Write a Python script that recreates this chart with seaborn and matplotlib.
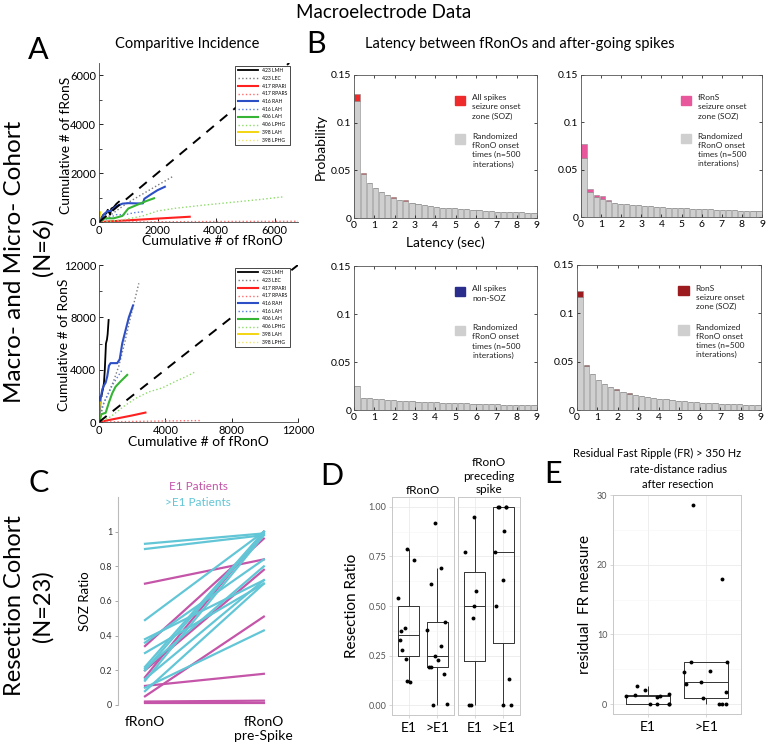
import numpy as np
import pandas as pd
import seaborn as sns
import matplotlib.pyplot as plt
from matplotlib.patches import Rectangle
from matplotlib.ticker import MultipleLocator

# ---------------- data ----------------
# panel A: cumulative counts (x = cumulative fRonO, y = cumulative fRonS / RonS)
a_top = {
    "423 LMH": ([0, 80, 150, 250, 300, 380, 420, 500, 600, 680],
                [0, 150, 300, 350, 500, 300, 550, 600, 750, 830]),
    "423 LEC": ([0, 300, 700, 1000, 1500, 2000, 2550],
                [0, 200, 550, 800, 1150, 1500, 1880]),
    "417 RPARI": ([0, 1000, 2000, 3100], [0, 70, 140, 215]),
    "417 RPARS": ([0, 2000, 4000, 6800], [0, 10, 20, 30]),
    "416 RAH": ([0, 100, 200, 300, 400, 600, 800, 1000, 1300, 1500, 1550, 1800, 2000, 2250],
                [0, 200, 350, 450, 450, 650, 750, 770, 760, 760, 950, 1150, 1300, 1440]),
    "416 LAH": ([0, 300, 600, 900, 1200, 1500], [0, 150, 300, 300, 380, 420]),
    "406 LAH": ([0, 200, 500, 800, 1000, 1300, 1600, 1880],
                [0, 150, 150, 250, 550, 700, 850, 970]),
    "406 LPHG": ([0, 800, 1500, 2000, 2600, 3500, 4500, 5500, 6300],
                 [0, 80, 250, 450, 560, 680, 800, 920, 1030]),
    "398 LAH": ([0, 20, 40], [0, 200, 400]),
    "398 LPHG": ([0, 50], [0, 100]),
}
a_bottom = {
    "423 LMH": ([0, 60, 150, 250, 300, 350, 420, 480, 520, 580],
                [0, 1900, 2000, 2600, 3000, 4000, 6000, 6300, 6700, 7800]),
    "423 LEC": ([0, 300, 600, 900, 1200, 1500, 1900, 2400],
                [0, 1500, 2300, 3200, 4300, 5800, 8000, 10600]),
    "417 RPARI": ([0, 1000, 2000, 2800], [0, 250, 500, 720]),
    "417 RPARS": ([0, 2000, 4000, 6100], [0, 40, 80, 110]),
    "416 RAH": ([0, 100, 200, 300, 400, 500, 600, 700, 1100, 1250, 1400, 1600, 1800, 2050],
                [0, 1800, 2500, 2800, 3000, 3500, 4300, 4500, 4500, 4800, 6000, 7000, 8000, 8900]),
    "416 LAH": ([0, 200, 500, 800, 1100, 1400], [0, 1200, 2000, 2800, 3400, 4000]),
    "406 LAH": ([0, 150, 400, 600, 800, 1000, 1300, 1700],
                [0, 600, 700, 1500, 2200, 2700, 3100, 3600]),
    "406 LPHG": ([0, 700, 1500, 2200, 3000, 3800, 4600, 5300, 5750],
                 [0, 400, 1200, 1800, 2300, 2600, 3100, 3500, 3800]),
    "398 LAH": ([0, 20, 40, 60], [0, 600, 1200, 1500]),
    "398 LPHG": ([0, 40], [0, 200]),
}

# panel B: latency histograms (bin centres in sec, bin width 0.3 s)
latency_bins = np.round(np.arange(0.15, 9.0, 0.3), 2)
soz_all_obs = [0.130, 0.047, 0.037, 0.031, 0.027, 0.024, 0.022, 0.019, 0.019, 0.016,
               0.015, 0.014, 0.013, 0.012, 0.011, 0.011, 0.010, 0.0095, 0.009, 0.0085,
               0.0085, 0.0075, 0.007, 0.0068, 0.0065, 0.0062, 0.006, 0.0062, 0.0055, 0.0053]
soz_all_rand = [0.123, 0.046, 0.037, 0.031, 0.027, 0.024, 0.021, 0.019, 0.018, 0.016,
                0.015, 0.014, 0.013, 0.012, 0.011, 0.0105, 0.010, 0.0095, 0.009, 0.0085,
                0.008, 0.0075, 0.007, 0.0068, 0.0065, 0.0062, 0.006, 0.0058, 0.0055, 0.0053]
frons_obs = [0.077, 0.030, 0.023, 0.022, 0.018, 0.015, 0.014, 0.0135, 0.013, 0.0125,
             0.012, 0.0115, 0.011, 0.0105, 0.010, 0.0098, 0.0095, 0.009, 0.0088, 0.0085,
             0.0082, 0.008, 0.0078, 0.0075, 0.0072, 0.007, 0.0068, 0.0066, 0.0064, 0.006]
frons_rand = [0.062, 0.026, 0.021, 0.019, 0.017, 0.015, 0.014, 0.0135, 0.013, 0.0125,
              0.012, 0.0115, 0.011, 0.0105, 0.010, 0.0098, 0.0095, 0.009, 0.0088, 0.0085,
              0.0082, 0.008, 0.0078, 0.0075, 0.0072, 0.007, 0.0068, 0.0066, 0.0064, 0.006]
nonsoz_obs = [0.024, 0.0125, 0.0115, 0.011, 0.0105, 0.010, 0.0095, 0.0093, 0.009, 0.0086,
              0.0084, 0.0081, 0.0078, 0.0076, 0.0074, 0.0071, 0.0069, 0.0067, 0.0065, 0.0063,
              0.0061, 0.0059, 0.0057, 0.0055, 0.0053, 0.0052, 0.0051, 0.005, 0.0049, 0.0047]
nonsoz_rand = [0.025, 0.013, 0.012, 0.0115, 0.011, 0.0105, 0.010, 0.0098, 0.0095, 0.009,
               0.0088, 0.0085, 0.0082, 0.008, 0.0078, 0.0075, 0.0072, 0.007, 0.0068, 0.0066,
               0.0064, 0.0062, 0.006, 0.0058, 0.0056, 0.0055, 0.0054, 0.0053, 0.0052, 0.005]
rons_obs = [0.123, 0.047, 0.037, 0.031, 0.027, 0.024, 0.022, 0.019, 0.018, 0.016,
            0.0145, 0.013, 0.012, 0.0115, 0.0112, 0.010, 0.0095, 0.009, 0.0085, 0.008,
            0.0075, 0.007, 0.0068, 0.0065, 0.0062, 0.006, 0.0058, 0.0056, 0.0054, 0.0052]
rons_rand = [0.117, 0.046, 0.037, 0.031, 0.027, 0.024, 0.021, 0.019, 0.017, 0.016,
             0.0145, 0.013, 0.012, 0.0115, 0.011, 0.010, 0.0095, 0.009, 0.0085, 0.008,
             0.0075, 0.007, 0.0068, 0.0065, 0.0062, 0.006, 0.0058, 0.0056, 0.0054, 0.0052]

# panel C: SOZ ratio per patient
c_group = ["E1"] * 8 + [">E1"] * 13
c_fronO = [0.70, 0.34, 0.20, 0.16, 0.11, 0.05, 0.02, 0.01,
           0.93, 0.90, 0.49, 0.38, 0.36, 0.30, 0.22, 0.21, 0.20, 0.15, 0.14, 0.10, 0.08]
c_prespike = [0.84, 0.96, 0.78, 1.00, 0.18, 0.51, 0.025, 0.01,
              0.99, 0.98, 1.00, 0.72, 0.84, 0.70, 1.00, 0.80, 0.99, 0.72, 0.98, 0.43, 0.70]

# panel D: resection ratio
d_fronO_e1 = [0.79, 0.73, 0.54, 0.39, 0.375, 0.33, 0.28, 0.235, 0.12, 0.115]
d_fronO_gt = [0.92, 0.69, 0.61, 0.42, 0.38, 0.30, 0.25, 0.23, 0.19, 0.19, 0.155, 0.005, 0.0]
d_pre_e1 = [0.95, 0.77, 0.575, 0.50, 0.44, 0.0, 0.0]
d_pre_gt = [1.0, 1.0, 1.0, 1.0, 0.88, 0.77, 0.63, 0.50, 0.13, 0.0, 0.0]

# panel E: residual FR measure
e_e1 = [0, 0, 0, 0, 1.0, 1.3, 1.4, 1.1, 2.6, 2.0, 1.2]
e_gt = [28.6, 18.0, 6.1, 6.1, 4.8, 4.6, 3.1, 2.9, 1.7, 0.9, 0, 0, 0]

# ---------------- styles ----------------
A_STYLE = {
    "423 LMH": ("black", "-", 1.3),
    "423 LEC": ("#7a7a7a", ":", 1.0),
    "417 RPARI": ("#ff2020", "-", 1.5),
    "417 RPARS": ("#ff6a6a", ":", 1.0),
    "416 RAH": ("#2d4fc6", "-", 1.5),
    "416 LAH": ("#5a7ee0", ":", 1.0),
    "406 LAH": ("#35b435", "-", 1.5),
    "406 LPHG": ("#8edc6a", ":", 1.0),
    "398 LAH": ("#f2d200", "-", 1.3),
    "398 LPHG": ("#f2e36a", ":", 1.0),
}
C_COLORS = {"E1": "#c455a8", ">E1": "#62c6d6"}
GRAY_BAR = "#cfcfcf"

plt.rcParams['font.family'] = ['Lato', 'DejaVu Sans']
W, H = 768, 746


def box(l, t, r, b):
    return [l / W, 1 - b / H, (r - l) / W, (b - t) / H]


def fx(x):
    return x / W


def fy(y):
    return 1 - y / H


fig = plt.figure(figsize=(7.68, 7.46), dpi=100)


# ---------------- panel A ----------------
def draw_cumulative(ax, series, xmax, ymax, xticks, yticks, yminor):
    for name, (xs, ys) in series.items():
        color, ls, lw = A_STYLE[name]
        sns.lineplot(x=xs, y=ys, ax=ax, color=color, linestyle=ls, linewidth=lw,
                     sort=False, estimator=None, label=name)
    ax.axline((0, 0), slope=1, color="black", linestyle=(0, (5, 4)), lw=1.4)
    ax.set_xlim(0, xmax)
    ax.set_ylim(0, ymax)
    ax.set_xticks(xticks)
    ax.set_yticks(yticks)
    ax.yaxis.set_minor_locator(MultipleLocator(yminor))
    for s in ["top", "right"]:
        ax.spines[s].set_visible(False)
    for s in ["left", "bottom"]:
        ax.spines[s].set_linewidth(0.6)
        ax.spines[s].set_color("#444444")
    ax.tick_params(direction="in", length=3, width=0.6, labelsize=8, pad=2)
    ax.tick_params(which="minor", direction="in", length=2, width=0.5)
    leg = ax.legend(loc="upper right", bbox_to_anchor=(0.97, 1.0), fontsize=3.6,
                    frameon=True, fancybox=False, edgecolor="black", framealpha=1,
                    handlelength=4, borderpad=0.5, labelspacing=0.55, handletextpad=0.8)
    leg.get_frame().set_linewidth(0.5)


ax_at = fig.add_axes(box(99, 63, 298, 222))
draw_cumulative(ax_at, a_top, 6800, 6500, [0, 2000, 4000, 6000], [0, 2000, 4000, 6000], 1000)
ax_ab = fig.add_axes(box(99, 265, 298, 422))
draw_cumulative(ax_ab, a_bottom, 12000, 12000, [0, 4000, 8000, 12000], [0, 4000, 8000, 12000], 2000)

fig.text(fx(66), fy(145), "Cumulative # of fRonS", rotation=90, ha="center", va="center", fontsize=10)
fig.text(fx(64), fy(345), "Cumulative # of RonS", rotation=90, ha="center", va="center", fontsize=10)
fig.text(fx(212), fy(241), "Cumulative # of fRonO", ha="center", va="center", fontsize=10)
fig.text(fx(198), fy(442), "Cumulative # of fRonO", ha="center", va="center", fontsize=10)


# ---------------- panel B ----------------
def draw_latency(ax, observed, randomized, color, label):
    rand = np.asarray(randomized)
    excess = np.maximum(np.asarray(observed) - rand, 0)
    n = len(latency_bins)
    df = pd.DataFrame({
        "latency": np.concatenate([latency_bins, latency_bins]),
        "prob": np.concatenate([excess, rand]),
        "part": ["observed"] * n + ["random"] * n,
    })
    # stacked: randomized baseline in gray, observed excess on top in colour
    sns.histplot(data=df, x="latency", weights="prob", hue="part",
                 hue_order=["observed", "random"],
                 palette={"observed": color, "random": GRAY_BAR},
                 binwidth=0.3, binrange=(0, 9), multiple="stack", shrink=0.85, alpha=1,
                 edgecolor="#8c8c8c", linewidth=0.4, legend=False, ax=ax)
    ax.set_xlim(0, 9)
    ax.set_ylim(0, 0.15)
    ax.set_xticks(range(10))
    ax.set_xticklabels([str(i) for i in range(10)])
    ax.set_yticks([0, 0.05, 0.1, 0.15])
    ax.set_yticklabels(["0", "0.05", "0.1", "0.15"])
    ax.set_xlabel("")
    ax.set_ylabel("")
    for s in ax.spines.values():
        s.set_linewidth(0.6)
        s.set_color("#555555")
    ax.tick_params(direction="in", top=True, right=True, length=2.5, width=0.5,
                   labelsize=7.5, pad=2)
    # key
    ax.add_patch(Rectangle((0.55, 0.79), 0.058, 0.065, transform=ax.transAxes,
                           color=color, clip_on=False))
    ax.text(0.645, 0.865, label, transform=ax.transAxes, va="top", ha="left",
            fontsize=6, linespacing=1.35, color="#222222")
    ax.add_patch(Rectangle((0.55, 0.52), 0.058, 0.065, transform=ax.transAxes,
                           color=GRAY_BAR, clip_on=False))
    ax.text(0.645, 0.595, "Randomized\nfRonO onset\ntimes (n=500\ninterations)",
            transform=ax.transAxes, va="top", ha="left", fontsize=6, linespacing=1.35,
            color="#222222")


ax_b1 = fig.add_axes(box(354, 75, 537, 218))
draw_latency(ax_b1, soz_all_obs, soz_all_rand, "#ee2a2a", "All spikes\nseizure onset\nzone (SOZ)")
ax_b1.set_xlabel("Latency (sec)", fontsize=10, labelpad=5)
ax_b1.set_ylabel("Probability", fontsize=10, labelpad=3)
ax_b2 = fig.add_axes(box(581, 75, 762, 217))
draw_latency(ax_b2, frons_obs, frons_rand, "#e8579b", "fRonS\nseizure onset\nzone (SOZ)")
ax_b3 = fig.add_axes(box(354, 266, 537, 410))
draw_latency(ax_b3, nonsoz_obs, nonsoz_rand, "#2b2d8c", "All spikes\nnon-SOZ")
ax_b4 = fig.add_axes(box(577, 265, 761, 410))
draw_latency(ax_b4, rons_obs, rons_rand, "#9b1b1e", "RonS\nseizure onset\nzone (SOZ)")

# ---------------- panel C ----------------
measures = ["fRonO", "fRonO\npre-Spike"]
c_long = pd.DataFrame({
    "patient": list(range(len(c_group))) * 2,
    "group": c_group * 2,
    "measure": [measures[0]] * len(c_group) + [measures[1]] * len(c_group),
    "ratio": c_fronO + c_prespike,
})
ax_c = fig.add_axes(box(118, 497, 290, 705))
sns.lineplot(data=c_long, x="measure", y="ratio", units="patient", estimator=None,
             hue="group", palette=C_COLORS, legend=False, lw=1.6, ax=ax_c)
ax_c.set_xlim(-0.227, 1.22)
ax_c.set_ylim(0, 1.2)
ax_c.set_yticks([0, 0.2, 0.4, 0.6, 0.8, 1.0])
ax_c.set_yticklabels(["0", "0.2", "0.4", "0.6", "0.8", "1"])
ax_c.set_xlabel("")
ax_c.set_ylabel("SOZ Ratio", fontsize=9.5, labelpad=6)
for s in ["top", "right", "bottom"]:
    ax_c.spines[s].set_visible(False)
ax_c.spines["left"].set_color("#bbbbbb")
ax_c.spines["left"].set_linewidth(0.8)
ax_c.tick_params(axis="y", length=2, width=0.6, color="#999999", labelsize=6.5,
                 labelcolor="#333333", pad=2)
ax_c.tick_params(axis="x", length=0, labelsize=10, pad=8)
fig.text(fx(198), fy(486), "E1 Patients", color=C_COLORS["E1"], ha="center", va="center", fontsize=8.5)
fig.text(fx(198), fy(503), ">E1 Patients", color=C_COLORS[">E1"], ha="center", va="center", fontsize=8.5)


# ---------------- panels D and E ----------------
def draw_resection(ax, e1, gt, minor, seed):
    df = pd.DataFrame({"group": ["E1"] * len(e1) + [">E1"] * len(gt), "value": e1 + gt})
    sns.boxplot(data=df, x="group", y="value", order=["E1", ">E1"], fill=False,
                color="#333333", width=0.75, linewidth=0.7, showfliers=False,
                showcaps=False, ax=ax)
    np.random.seed(seed)
    sns.stripplot(data=df, x="group", y="value", order=["E1", ">E1"], jitter=0.38,
                  color="black", size=2.8, ax=ax)
    ax.set_xlim(-0.6, 1.6)
    ax.set_xlabel("")
    ax.set_ylabel("")
    ax.yaxis.set_minor_locator(MultipleLocator(minor))
    ax.set_axisbelow(True)
    ax.grid(True, which="major", color="#ebebeb", lw=0.6)
    ax.grid(True, which="minor", axis="y", color="#f5f5f5", lw=0.4)
    for s in ax.spines.values():
        s.set_color("#c8c8c8")
        s.set_linewidth(0.7)
    ax.tick_params(axis="y", length=2, width=0.5, color="#c8c8c8", labelsize=6.5,
                   labelcolor="#555555", pad=2)
    ax.tick_params(axis="y", which="minor", length=0)
    ax.tick_params(axis="x", length=2, width=0.5, color="#c8c8c8", labelsize=10, pad=3)


ax_d1 = fig.add_axes(box(392, 497, 454, 715))
draw_resection(ax_d1, d_fronO_e1, d_fronO_gt, 0.125, 1)
ax_d2 = fig.add_axes(box(458, 497, 520, 715))
draw_resection(ax_d2, d_pre_e1, d_pre_gt, 0.125, 2)
for ax in (ax_d1, ax_d2):
    ax.set_ylim(-0.05, 1.05)
    ax.set_yticks([0, 0.25, 0.5, 0.75, 1.0])
ax_d1.set_yticklabels(["0.00", "0.25", "0.50", "0.75", "1.00"])
ax_d2.set_yticklabels([])
ax_d2.tick_params(axis="y", length=0)
fig.text(fx(352), fy(606), "Resection Ratio", rotation=90, ha="center", va="center", fontsize=11)
fig.text(fx(423), fy(490), "fRonO", ha="center", va="center", fontsize=8.5)
fig.text(fx(489), fy(476), "fRonO\npreceding\nspike", ha="center", va="center", fontsize=8.5,
         linespacing=1.25)

ax_e = fig.add_axes(box(613, 495, 741, 714))
draw_resection(ax_e, e_e1, e_gt, 5, 4)
ax_e.set_ylim(-1.43, 30.03)
ax_e.set_yticks([0, 10, 20, 30])
fig.text(fx(585), fy(605), "residual  FR measure", rotation=90, ha="center", va="center", fontsize=11)
fig.text(fx(657), fy(453), "Residual Fast Ripple (FR) > 350 Hz", ha="center", va="center", fontsize=8)
fig.text(fx(678), fy(477), "rate-distance radius\nafter resection", ha="center", va="center",
         fontsize=8, linespacing=1.45)

# ---------------- titles and labels ----------------
fig.text(0.5, fy(13), "Macroelectrode Data", ha="center", va="center", fontsize=13.5)
fig.text(fx(187), fy(44), "Comparitive Incidence", ha="center", va="center", fontsize=10.5)
fig.text(fx(520), fy(44), "Latency between fRonOs and after-going spikes", ha="center",
         va="center", fontsize=10.5)
for letter, x, y in [("A", 38, 50), ("B", 316, 44), ("C", 39, 483), ("D", 332, 476), ("E", 553, 474)]:
    fig.text(fx(x), fy(y), letter, ha="center", va="center", fontsize=22)
fig.text(fx(15), fy(262), "Macro- and Micro- Cohort", rotation=90, ha="center", va="center", fontsize=17.5)
fig.text(fx(43), fy(247), "(N=6)", rotation=90, ha="center", va="center", fontsize=17)
fig.text(fx(15), fy(606), "Resection Cohort", rotation=90, ha="center", va="center", fontsize=17)
fig.text(fx(43), fy(606), "(N=23)", rotation=90, ha="center", va="center", fontsize=17)

fig.savefig("out.png", dpi=100)
